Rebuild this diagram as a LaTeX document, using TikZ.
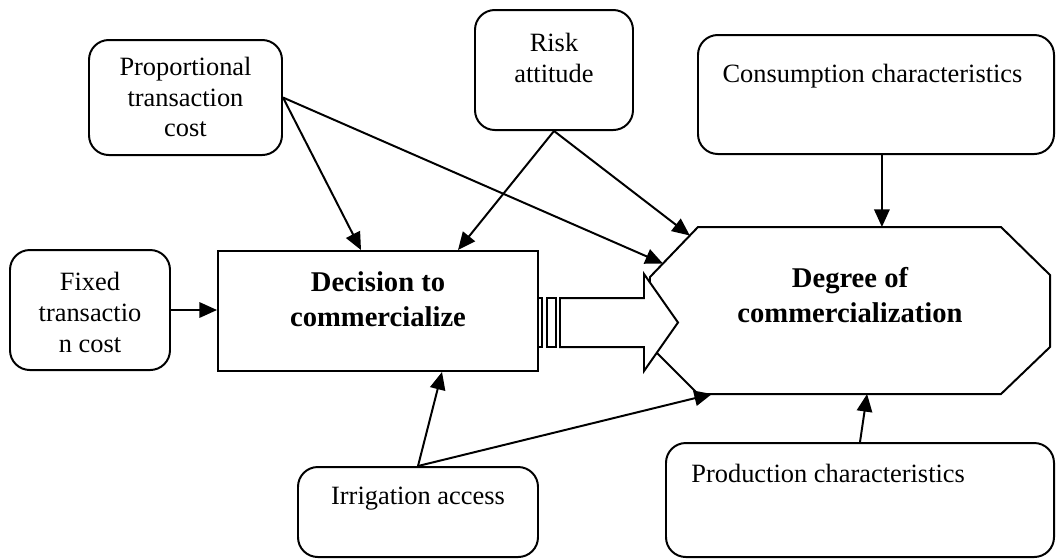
\documentclass[tikz,border=0pt]{standalone}
\usepackage{fontspec}
\setmainfont{Liberation Serif}
\usetikzlibrary{arrows.meta,fit,calc,positioning}

\tikzset{
  box/.style={draw, line width=0.9pt, rounded corners=9pt, inner sep=0pt,
    align=center, font=\fontsize{12}{14}\selectfont},
  mainbox/.style={draw, line width=0.9pt, inner sep=0pt},
  maintext/.style={inner sep=0pt, align=center,
    font=\fontsize{13}{16}\selectfont\bfseries},
  toptext/.style={inner sep=0pt, align=center,
    font=\fontsize{12}{14}\selectfont},
  link/.style={-{Triangle[length=8pt,width=7pt]}, line width=0.9pt},
}

\begin{document}
\begin{tikzpicture}[x=0.4545pt, y=-0.4545pt]
	\useasboundingbox (0,0) rectangle (1057,559);
	%\draw [help lines, step=50] (0,0) grid (1057,559);
	% outer boxes
	\node [box, fit={(89,40) (282,155)}] (prop) {};
	\node [toptext, below=8pt of prop.north] {Proportional\\transaction\\cost};
	\node [box, fit={(10,250) (170,370)}] (fixed) {};
	\node [toptext, below=10.5pt of fixed.north] {Fixed\\transactio\\n cost};
	\node [box, fit={(475,10) (633,130)}] (risk) {};
	\node [toptext, below=11pt of risk.north] {Risk\\attitude};
	\node [box, fit={(698,35) (1054,154)}] (cons) {};
	\node [toptext, below right=13.5pt and 11.4pt of cons.north west] {Consumption characteristics};
	\node [box, fit={(298,467) (538,557)}] (irr) {};
	\node [toptext, below=9.5pt of irr.north] {Irrigation access};
	\node [box, fit={(666,443) (1054,557)}] (prod) {};
	\node [toptext, below right=10pt and 11.8pt of prod.north west] {Production characteristics};
	% decision box
	\node [mainbox, fit={(218,251) (538,371)}] (dec) {};
	\node [maintext] at ($(dec.center)+(0,-12)$) {Decision to\\commercialize};
	% degree octagon
	\draw [line width=0.9pt]
		(650,277) -- (698,227) coordinate [pos=0.27] (dprop) coordinate [pos=0.83] (drisk)
		-- (1001,227) coordinate [pos=0.607] (dcons)
		-- (1050,275) -- (1050,347) -- (1001,394)
		-- (698,394) coordinate [pos=0.442] (dprod) coordinate [pos=0.954] (dirr)
		-- (650,346) -- cycle;
	\node [maintext] (deg) at (850,295) {Degree of\\commercialization};
	% block arrow
	\draw [line width=0.9pt, fill=white] (538,298) rectangle (542,347);
	\draw [line width=0.9pt, fill=white] (547,298) rectangle (556,347);
	\draw [line width=0.9pt, fill=white] (560,298) -- (644,298) -- (644,274)
		-- (678,322.5) -- (644,371) -- (644,347) -- (560,347) -- cycle;
	% connectors
	\draw [link] (prop.east) -- ($(dec.north)+(-17,0)$);
	\draw [link] (prop.east) -- (dprop);
	\draw [link] (risk.south) -- ($(dec.north)+(80,0)$);
	\draw [link] (risk.south) -- (drisk);
	\draw [link] (cons.south -| dcons) -- (dcons);
	\draw [link] (fixed.east) -- (fixed.east -| dec.west);
	\draw [link] (irr.north) -- ($(dec.south)+(64,0)$);
	\draw [link] (irr.north) -- (dirr);
	\draw [link] (prod.north) -- (dprod);
\end{tikzpicture}
\end{document}
